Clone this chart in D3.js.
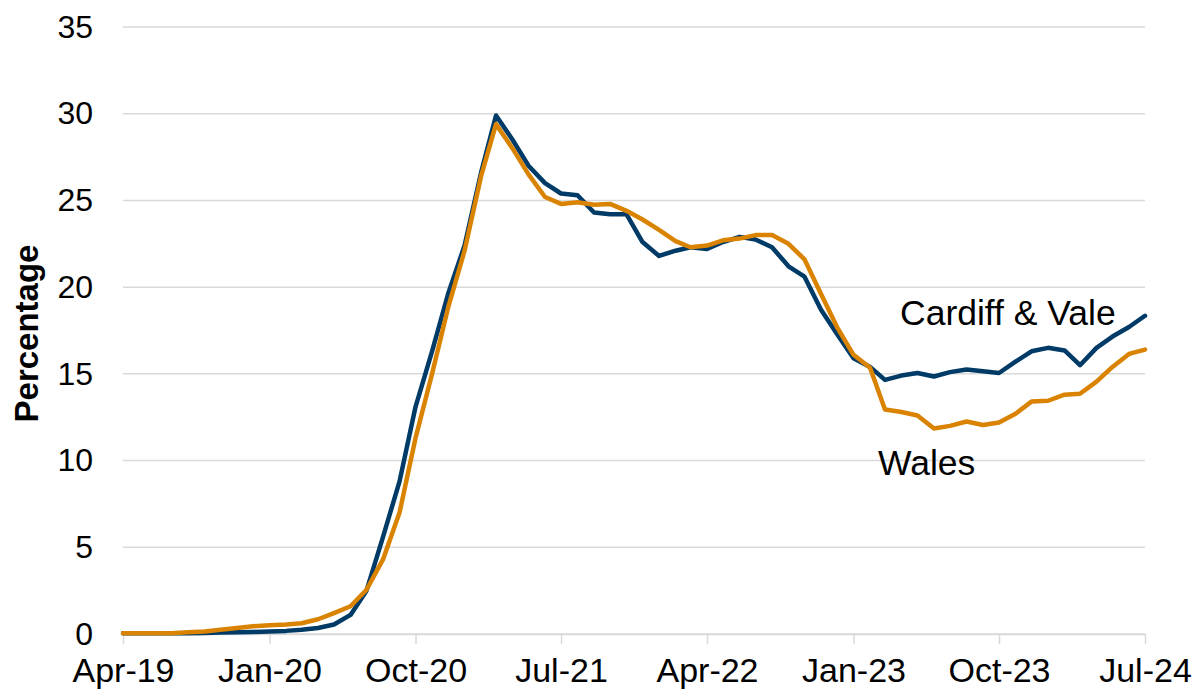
<!DOCTYPE html>
<html>
<head>
<meta charset="utf-8">
<script src="https://cdn.jsdelivr.net/npm/d3@7"></script>
<style>
  body { margin: 0; background: #fff; }
  svg text { font-family: Arial, "Liberation Sans", sans-serif; fill: #000; }
</style>
</head>
<body>
<div id="chart"></div>
<script>
// monthly categories, Apr-19 .. Jul-24
const months = d3.timeMonth.range(new Date(2019, 3, 1), new Date(2024, 7, 1));

const cardiff = [0.05, 0.05, 0.05, 0.05, 0.05, 0.06, 0.08, 0.1, 0.12,
    0.15, 0.18, 0.25, 0.35, 0.55, 1.1, 2.5, 5.6, 8.8, 13.1, 16.3, 19.6, 22.4, 26.6, 29.9,
    28.5, 27.0, 26.0, 25.4, 25.3, 24.3, 24.2, 24.2, 22.6, 21.8, 22.1, 22.3, 22.2, 22.6,
    22.9, 22.75, 22.3, 21.2, 20.6, 18.7, 17.3, 15.9, 15.4, 14.65, 14.9, 15.05, 14.85,
    15.1, 15.25, 15.15, 15.05, 15.7, 16.3, 16.5, 16.35, 15.5, 16.5, 17.15, 17.7, 18.35];

const wales = [0.05, 0.05, 0.05, 0.05, 0.1, 0.15, 0.25, 0.35, 0.45,
    0.5, 0.55, 0.62, 0.85, 1.2, 1.6, 2.55, 4.3, 7.0, 11.3, 15.0, 18.8, 22.1, 26.4, 29.4,
    28.0, 26.5, 25.2, 24.8, 24.9, 24.75, 24.8, 24.4, 23.9, 23.3, 22.65, 22.3, 22.4, 22.7,
    22.8, 23.0, 23.0, 22.5, 21.6, 19.6, 17.7, 16.1, 15.35, 12.95, 12.8, 12.6, 11.85,
    12.0, 12.25, 12.05, 12.2, 12.7, 13.4, 13.45, 13.8, 13.85, 14.55, 15.4, 16.15, 16.4];

const xTickLabels = ["Apr-19", "Jan-20", "Oct-20", "Jul-21", "Apr-22", "Jan-23", "Oct-23", "Jul-24"];
const yTicks = [0, 5, 10, 15, 20, 25, 30, 35];

const width = 1200, height = 695;
const margin = { top: 27, right: 55, bottom: 61, left: 123 };

const svg = d3.select("#chart").append("svg")
    .attr("width", width)
    .attr("height", height);

const x = d3.scaleTime()
    .domain([months[0], months[months.length - 1]])
    .range([margin.left, width - margin.right]);

const y = d3.scaleLinear()
    .domain([0, 35])
    .range([height - margin.bottom, margin.top]);

const fmt = d3.timeFormat("%b-%y");
const xTicks = months.filter(m => xTickLabels.includes(fmt(m)));

// gridlines
svg.append("g")
    .selectAll("line")
    .data(yTicks)
    .enter().append("line")
    .attr("x1", margin.left)
    .attr("x2", width - margin.right)
    .attr("y1", d => y(d))
    .attr("y2", d => y(d))
    .style("stroke", "#d9d9d9")
    .style("stroke-width", 1.5);

// y axis labels
const yAxis = svg.append("g")
    .attr("transform", "translate(" + margin.left + ",0)")
    .call(d3.axisLeft(y).tickValues(yTicks).tickSize(0).tickPadding(30));
yAxis.select(".domain").remove();
yAxis.selectAll("text").style("font-size", "32px");

// x axis
const xAxis = svg.append("g")
    .attr("transform", "translate(0," + y(0) + ")")
    .call(d3.axisBottom(x).tickValues(xTicks).tickFormat(fmt).tickSize(10).tickSizeOuter(0).tickPadding(14));
xAxis.select(".domain").style("stroke", "#d9d9d9").style("stroke-width", 1.5);
xAxis.selectAll(".tick line").style("stroke", "#d9d9d9").style("stroke-width", 1.5);
xAxis.selectAll("text").style("font-size", "34px");

// y axis title
svg.append("text")
    .attr("transform", "translate(38," + ((margin.top + height - margin.bottom) / 2 + 3) + ") rotate(-90)")
    .style("text-anchor", "middle")
    .style("font-size", "33px")
    .style("font-weight", "bold")
    .text("Percentage");

const line = d3.line()
    .x((d, i) => x(months[i]))
    .y(d => y(d));

svg.append("path")
    .datum(cardiff)
    .attr("d", line)
    .style("fill", "none")
    .style("stroke", "#003a66")
    .style("stroke-width", 4.5)
    .style("stroke-linejoin", "round")
    .style("stroke-linecap", "round");

svg.append("path")
    .datum(wales)
    .attr("d", line)
    .style("fill", "none")
    .style("stroke", "#d98300")
    .style("stroke-width", 4.5)
    .style("stroke-linejoin", "round")
    .style("stroke-linecap", "round");

// series labels
svg.append("text")
    .attr("x", 900)
    .attr("y", 325)
    .style("font-size", "35.5px")
    .text("Cardiff & Vale");

svg.append("text")
    .attr("x", 878)
    .attr("y", 475)
    .style("font-size", "35.5px")
    .text("Wales");
</script>
</body>
</html>
